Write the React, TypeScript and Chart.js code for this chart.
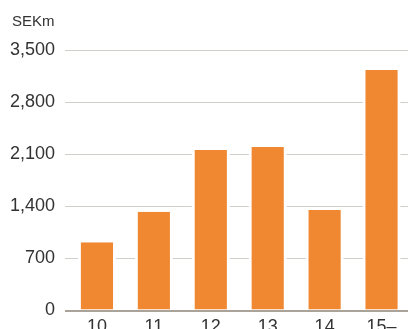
import React, { useEffect, useRef } from "react";
import { Chart, registerables } from "chart.js";

Chart.register(...registerables);

const categories = ["10", "11", "12", "13", "14", "15–"];
const values = [916, 1327, 2156, 2197, 1350, 3231];
const yTicks = [0, 700, 1400, 2100, 2800, 3500];
const unitLabel = "SEKm";

const FONT = "'Liberation Sans', Arial, Helvetica, sans-serif";
const W = 410;
const H = 345;

const unitPlugin = {
  id: "unitLabel",
  afterDraw(chart: any) {
    const ctx = chart.ctx;
    ctx.save();
    ctx.font = `15px ${FONT}`;
    ctx.fillStyle = "#333333";
    ctx.textAlign = "left";
    ctx.textBaseline = "alphabetic";
    ctx.fillText(unitLabel, 12, 26);
    ctx.restore();
  },
};

export default function App() {
  const ref = useRef<HTMLCanvasElement | null>(null);
  useEffect(() => {
    const canvas = ref.current!;
    const chart = new Chart(canvas, {
      type: "bar",
      data: {
        labels: categories,
        datasets: [
          {
            data: values,
            backgroundColor: "#F08832",
            borderColor: "#ffffff",
            borderWidth: { left: 3, right: 3, top: 0, bottom: 0 },
            borderSkipped: false,
            barPercentage: 0.67,
            categoryPercentage: 1,
          },
        ],
      },
      options: {
        responsive: false,
        animation: false,
        devicePixelRatio: 1,
        locale: "en-US",
        layout: { padding: { top: 50, left: 0, right: 0, bottom: 0 } },
        plugins: {
          legend: { display: false },
          tooltip: { enabled: false },
        },
        scales: {
          x: {
            grid: { display: false, drawTicks: false },
            border: { display: false },
            ticks: {
              color: "#333333",
              font: { family: FONT, size: 18 },
              padding: 6,
              maxRotation: 0,
            },
            afterFit(scale: any) {
              scale.height = H - 310.5;
            },
          },
          y: {
            min: 0,
            max: 3500,
            afterBuildTicks(scale: any) {
              scale.ticks = yTicks.map((v) => ({ value: v }));
            },
            grid: {
              color: (c: any) => (c.tick && c.tick.value === 0 ? "#aaa39a" : "#d2cfca"),
              lineWidth: (c: any) => (c.tick && c.tick.value === 0 ? 2 : 1),
              drawTicks: true,
              tickLength: 3.5,
            },
            border: { display: false },
            ticks: {
              color: "#333333",
              font: { family: FONT, size: 18 },
              padding: 10,
              callback: (v: any) => Number(v).toLocaleString("en-US"),
            },
            afterFit(scale: any) {
              scale.width = 68.5;
            },
          },
        },
      },
      plugins: [unitPlugin],
    });
    return () => chart.destroy();
  }, []);
  return (
    <div
      style={{
        position: "fixed",
        left: 0,
        top: 0,
        width: 408,
        height: 329,
        overflow: "hidden",
        background: "#ffffff",
      }}
    >
      <canvas ref={ref} width={W} height={H} style={{ width: W, height: H, display: "block" }} />
    </div>
  );
}
